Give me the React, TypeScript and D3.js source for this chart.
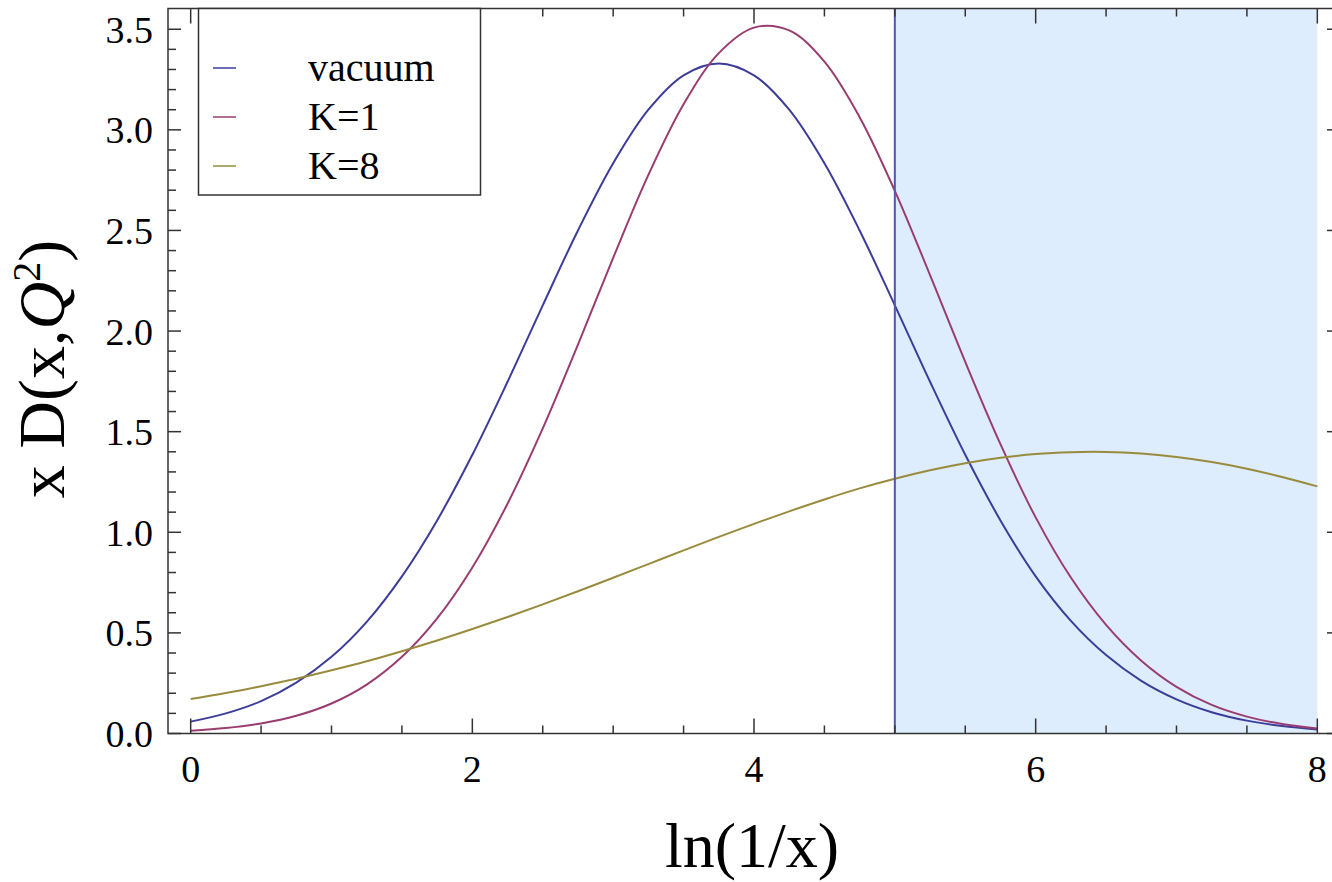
import React, { useRef, useEffect } from "react";
import * as d3 from "d3";

// ln(1/x) sample points
const lnInvX = [0, 0.25, 0.5, 0.75, 1, 1.25, 1.5, 1.75, 2, 2.25, 2.5, 2.75, 3, 3.25, 3.5, 3.75, 4,
  4.25, 4.5, 4.75, 5, 5.25, 5.5, 5.75, 6, 6.25, 6.5, 6.75, 7, 7.25, 7.5, 7.75, 8];

const vacuum = [0.059, 0.100, 0.161, 0.253, 0.381, 0.555, 0.781, 1.059, 1.385, 1.748, 2.128, 2.500,
  2.834, 3.100, 3.271, 3.330, 3.271, 3.100, 2.834, 2.500, 2.128, 1.748, 1.385, 1.059, 0.781, 0.560,
  0.390, 0.262, 0.170, 0.106, 0.064, 0.037, 0.020];

const k1 = [0.014, 0.027, 0.050, 0.088, 0.149, 0.243, 0.381, 0.572, 0.825, 1.142, 1.516, 1.933,
  2.364, 2.776, 3.127, 3.381, 3.508, 3.494, 3.339, 3.063, 2.697, 2.278, 1.847, 1.438, 1.074, 0.775,
  0.540, 0.362, 0.232, 0.142, 0.084, 0.047, 0.025];

const k8 = [0.171, 0.201, 0.235, 0.272, 0.314, 0.359, 0.409, 0.462, 0.519, 0.579, 0.642, 0.707,
  0.774, 0.842, 0.910, 0.977, 1.042, 1.104, 1.163, 1.218, 1.266, 1.308, 1.343, 1.370, 1.389, 1.398,
  1.399, 1.391, 1.374, 1.349, 1.316, 1.275, 1.228];

const seriesNames = ["vacuum", "K=1", "K=8"];
const seriesColors = ["#3d3d99", "#993d71", "#998b3d"];
const shadeRange = [5, 8];

const font = "'Liberation Serif', 'Times New Roman', serif";

const App = () => {
  const svgRef = useRef(null);

  useEffect(() => {
    const svg = d3.select(svgRef.current);
    svg.selectAll("*").remove();

    const left = 168, right = 1340, top = 8.5, bottom = 733.5;
    const x = d3.scaleLinear().domain([-0.161, 8.161]).range([left, right]);
    const y = d3.scaleLinear().domain([0, 3.603]).range([bottom, top]);

    // shaded region and its left edge
    svg.append("rect")
      .attr("x", x(shadeRange[0]))
      .attr("y", top)
      .attr("width", x(shadeRange[1]) - x(shadeRange[0]))
      .attr("height", bottom - top)
      .style("fill", "#ddedfd");

    const line = d3.line()
      .x((d) => x(d[0]))
      .y((d) => y(d[1]))
      .curve(d3.curveCatmullRom);

    [vacuum, k1, k8].forEach((vals, i) => {
      svg.append("path")
        .datum(lnInvX.map((t, j) => [t, vals[j]]))
        .attr("d", line)
        .style("fill", "none")
        .style("stroke", seriesColors[i])
        .style("stroke-width", 2);
    });

    svg.append("line")
      .attr("x1", x(shadeRange[0])).attr("x2", x(shadeRange[0]))
      .attr("y1", bottom).attr("y2", top)
      .style("stroke", "#5555aa")
      .style("stroke-width", 2);

    // ticks
    const tickG = svg.append("g").style("stroke", "#333").style("stroke-width", 1.5);
    const xTicks = d3.range(0, 8.01, 0.5);
    xTicks.forEach((t) => {
      const len = t % 2 === 0 ? 15 : 8;
      tickG.append("line").attr("x1", x(t)).attr("x2", x(t)).attr("y1", bottom).attr("y2", bottom - len);
      tickG.append("line").attr("x1", x(t)).attr("x2", x(t)).attr("y1", top).attr("y2", top + len);
    });
    const yTicks = d3.range(0, 36).map((i) => i / 10);
    yTicks.forEach((v, i) => {
      const len = i % 5 === 0 ? 13 : 8;
      tickG.append("line").attr("x1", left).attr("x2", left + len).attr("y1", y(v)).attr("y2", y(v));
      tickG.append("line").attr("x1", right).attr("x2", right - len).attr("y1", y(v)).attr("y2", y(v));
    });

    // frame
    svg.append("rect")
      .attr("x", left).attr("y", top)
      .attr("width", right - left).attr("height", bottom - top)
      .style("fill", "none").style("stroke", "#333").style("stroke-width", 1.5);

    // tick labels
    svg.append("g").selectAll("text")
      .data([0, 2, 4, 6, 8])
      .enter().append("text")
      .attr("x", (d) => x(d))
      .attr("y", 782)
      .attr("text-anchor", "middle")
      .style("font-family", font).style("font-size", "38px")
      .text((d) => d);

    svg.append("g").selectAll("text")
      .data(d3.range(0, 3.51, 0.5))
      .enter().append("text")
      .attr("x", 153)
      .attr("y", (d) => y(d) + 13.5)
      .attr("text-anchor", "end")
      .style("font-family", font).style("font-size", "38px")
      .text((d) => d.toFixed(1));

    // axis labels
    svg.append("text")
      .attr("x", 752).attr("y", 867)
      .attr("text-anchor", "middle")
      .style("font-family", font).style("font-size", "64px")
      .text("ln(1/x)");

    const ylab = svg.append("text")
      .attr("transform", "translate(64, 369) rotate(-90)")
      .attr("text-anchor", "middle")
      .style("font-family", font).style("font-size", "66px");
    ylab.append("tspan").text("x D(x,");
    ylab.append("tspan").style("font-style", "italic").text("Q");
    ylab.append("tspan").attr("dy", -24).style("font-size", "40px").text("2");
    ylab.append("tspan").attr("dy", 24).text(")");

    // legend
    const lg = svg.append("g");
    lg.append("rect")
      .attr("x", 198.5).attr("y", top)
      .attr("width", 282).attr("height", 186.5)
      .style("fill", "white").style("stroke", "#333").style("stroke-width", 1.5);
    seriesNames.forEach((name, i) => {
      const ly = 68 + i * 49;
      lg.append("line")
        .attr("x1", 213).attr("x2", 236).attr("y1", ly).attr("y2", ly)
        .style("stroke", seriesColors[i]).style("stroke-width", 1.5);
      lg.append("text")
        .attr("x", 308).attr("y", ly + 13)
        .style("font-family", font).style("font-size", "40px")
        .text(name);
    });
  }, []);

  return (
    <div>
      <svg ref={svgRef} width={1332} height={882}
        style={{ position: "absolute", left: 0, top: 0, background: "white" }}></svg>
    </div>
  );
};

export default App;
